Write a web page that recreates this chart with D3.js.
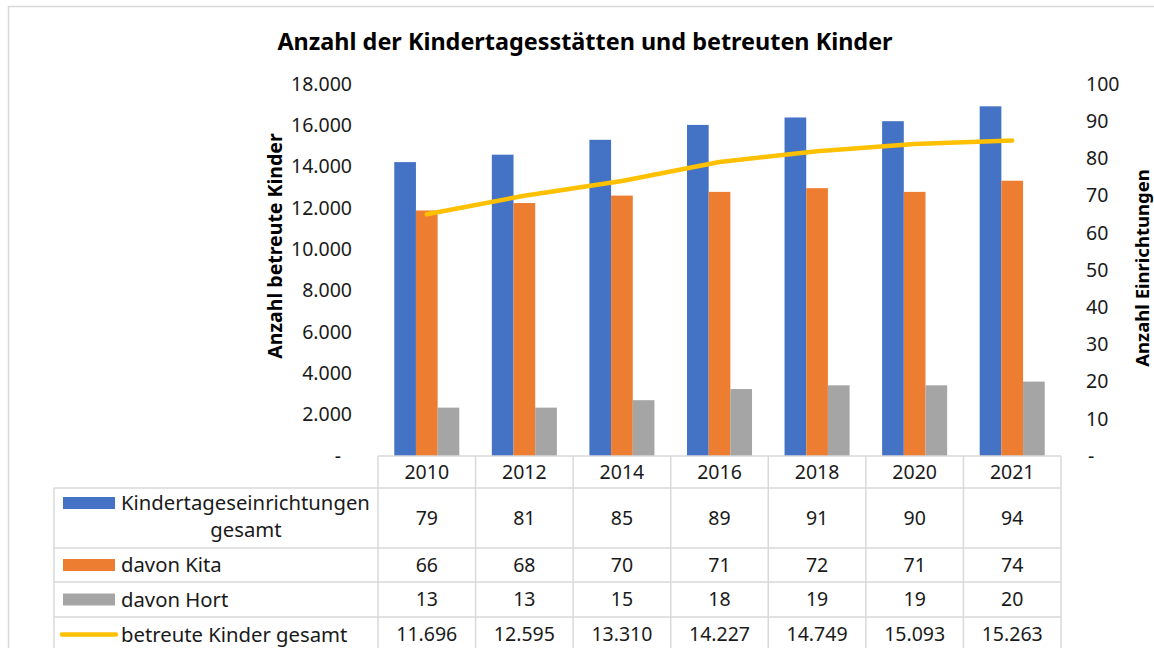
<!DOCTYPE html>
<html>
<head>
<meta charset="utf-8">
<script src="https://cdn.jsdelivr.net/npm/d3@7"></script>
<style>
	body { margin: 0; background: #fff; }
	svg { display: block; font-family: "Noto Sans", sans-serif; }
</style>
</head>
<body>
<div id="chart"></div>
<script>

// data
var years = ['2010', '2012', '2014', '2016', '2018', '2020', '2021'];
var einrichtungen = [79, 81, 85, 89, 91, 90, 94];
var kita = [66, 68, 70, 71, 72, 71, 74];
var hort = [13, 13, 15, 18, 19, 19, 20];
var kinder = [11696, 12595, 13310, 14227, 14749, 15093, 15263];
var leftTicks = [0, 2000, 4000, 6000, 8000, 10000, 12000, 14000, 16000, 18000];
var rightTicks = [0, 10, 20, 30, 40, 50, 60, 70, 80, 90, 100];

var barSeries = [
	{ name : 'Kindertageseinrichtungen gesamt', lines : ['Kindertageseinrichtungen', 'gesamt'], values : einrichtungen, color : '#4472C4' },
	{ name : 'davon Kita', lines : ['davon Kita'], values : kita, color : '#ED7D31' },
	{ name : 'davon Hort', lines : ['davon Hort'], values : hort, color : '#A5A5A5' }
];

var width = 1154;
var height = 648;

var plotLeft = 378;
var plotRight = 1061;
var plotTop = 84;
var plotBottom = 456;

var gridColor = '#d9d9d9';
var textColor = '#1a1a1a';
var numSize = '19.5px';

var de = d3.formatLocale({ decimal : ',', thousands : '.', grouping : [3], currency : ['', '€'] });
var fmt = de.format(',d');

var svg = d3.select('#chart')
		.append('svg')
		.attr('width', width)
		.attr('height', height);

// chart frame
svg.append('rect')
		.attr('x', 8.5)
		.attr('y', 6.5)
		.attr('width', width + 20)
		.attr('height', height + 20)
		.attr('fill', '#fff')
		.attr('stroke', gridColor)
		.attr('stroke-width', 1.5);

// title
svg.append('text')
		.attr('x', 585)
		.attr('y', 50)
		.attr('text-anchor', 'middle')
		.attr('font-size', '23.4px')
		.attr('font-weight', 700)
		.attr('fill', '#000')
		.text('Anzahl der Kindertagesstätten und betreuten Kinder');

// scales
var x = d3.scaleBand()
		.domain(years)
		.range([plotLeft, plotRight]);

var bw = x.bandwidth();
var barW = bw / 4.5;

var xInner = d3.scaleBand()
		.domain(barSeries.map(function (s) { return s.name; }))
		.range([(bw - 3 * barW) / 2, (bw + 3 * barW) / 2]);

var yLeft = d3.scaleLinear()
		.domain([0, 18000])
		.range([plotBottom, plotTop]);

var yRight = d3.scaleLinear()
		.domain([0, 100])
		.range([plotBottom, plotTop]);

// left axis
var leftAxis = svg.append('g')
		.attr('transform', 'translate(352,0)')
		.call(d3.axisLeft(yLeft)
			.tickValues(leftTicks)
			.tickSize(0)
			.tickPadding(0)
			.tickFormat(function (d) { return d === 0 ? '-' : fmt(d); }));

leftAxis.select('.domain').remove();
leftAxis.selectAll('text')
		.attr('font-size', numSize)
		.attr('font-family', '"Noto Sans", sans-serif')
		.attr('fill', textColor)
		.attr('dx', function (d) { return d === 0 ? -11 : 0; });

// right axis
var rightAxis = svg.append('g')
		.attr('transform', 'translate(1086,0)')
		.call(d3.axisRight(yRight)
			.tickValues(rightTicks)
			.tickSize(0)
			.tickPadding(0)
			.tickFormat(function (d) { return d === 0 ? '-' : fmt(d); }));

rightAxis.select('.domain').remove();
rightAxis.selectAll('text')
		.attr('font-size', numSize)
		.attr('font-family', '"Noto Sans", sans-serif')
		.attr('fill', textColor)
		.attr('dx', function (d) { return d === 0 ? 2 : 0; });

// axis titles
svg.append('text')
		.attr('transform', 'translate(282,246) rotate(-90)')
		.attr('text-anchor', 'middle')
		.attr('font-size', '19.5px')
		.attr('font-weight', 700)
		.attr('fill', '#000')
		.text('Anzahl betreute Kinder');

svg.append('text')
		.attr('transform', 'translate(1149,268) rotate(-90)')
		.attr('text-anchor', 'middle')
		.attr('font-size', '18.5px')
		.attr('font-weight', 700)
		.attr('fill', '#000')
		.text('Anzahl Einrichtungen');

// bars
var groups = svg.append('g')
		.selectAll('g')
		.data(barSeries)
		.enter()
		.append('g')
		.attr('fill', function (s) { return s.color; });

groups.selectAll('rect')
		.data(function (s) {
			return s.values.map(function (v, i) { return { name : s.name, year : years[i], value : v }; });
		})
		.enter()
		.append('rect')
		.attr('x', function (d) { return x(d.year) + xInner(d.name); })
		.attr('y', function (d) { return yRight(d.value); })
		.attr('width', xInner.bandwidth())
		.attr('height', function (d) { return yRight(0) - yRight(d.value); });

// line
var line = d3.line()
		.x(function (d, i) { return x(years[i]) + bw / 2; })
		.y(function (d) { return yLeft(d); });

svg.append('path')
		.datum(kinder)
		.attr('d', line)
		.attr('fill', 'none')
		.attr('stroke', '#FFC000')
		.attr('stroke-width', 4.5)
		.attr('stroke-linecap', 'round')
		.attr('stroke-linejoin', 'round');

// data table
var rowEdges = [456, 488, 548, 582, 617, 652];
var legendLeft = 54;

var tableRows = barSeries.map(function (s) {
	return { lines : s.lines, values : s.values.map(fmt), color : s.color, kind : 'bar' };
});
tableRows.push({ lines : ['betreute Kinder gesamt'], values : kinder.map(fmt), color : '#FFC000', kind : 'line' });

var table = svg.append('g')
		.attr('fill', textColor)
		.attr('font-size', numSize);

var border = table.append('g')
		.attr('stroke', gridColor)
		.attr('stroke-width', 1.5);

// header row lines
border.append('line')
		.attr('x1', plotLeft).attr('x2', plotRight)
		.attr('y1', rowEdges[0]).attr('y2', rowEdges[0]);

rowEdges.slice(1).forEach(function (yy) {
	border.append('line')
		.attr('x1', legendLeft).attr('x2', plotRight)
		.attr('y1', yy).attr('y2', yy);
});

border.append('line')
		.attr('x1', legendLeft).attr('x2', legendLeft)
		.attr('y1', rowEdges[1]).attr('y2', rowEdges[5]);

years.forEach(function (yr) {
	border.append('line')
		.attr('x1', x(yr)).attr('x2', x(yr))
		.attr('y1', rowEdges[0]).attr('y2', rowEdges[5]);
});

border.append('line')
		.attr('x1', plotRight).attr('x2', plotRight)
		.attr('y1', rowEdges[0]).attr('y2', rowEdges[5]);

// year header
table.selectAll('.year')
		.data(years)
		.enter()
		.append('text')
		.attr('class', 'year')
		.attr('x', function (d) { return x(d) + bw / 2; })
		.attr('y', (rowEdges[0] + rowEdges[1]) / 2)
		.attr('dy', '0.35em')
		.attr('text-anchor', 'middle')
		.text(function (d) { return d; });

tableRows.forEach(function (row, r) {

	var top = rowEdges[r + 1];
	var bottom = rowEdges[r + 2];
	var mid = (top + bottom) / 2;

	// legend key
	if (row.kind === 'bar') {
		table.append('rect')
			.attr('x', 63)
			.attr('y', (row.lines.length > 1 ? top + 15 : mid) - 6)
			.attr('width', 52)
			.attr('height', 12)
			.attr('fill', row.color);
	} else {
		table.append('line')
			.attr('x1', 62).attr('x2', 116)
			.attr('y1', mid).attr('y2', mid)
			.attr('stroke', row.color)
			.attr('stroke-width', 4.5)
			.attr('stroke-linecap', 'round');
	}

	// legend label
	if (row.lines.length > 1) {
		table.append('text')
			.attr('x', 121)
			.attr('y', top + 15)
			.attr('dy', '0.35em')
			.attr('font-size', '20.3px')
			.text(row.lines[0]);
		table.append('text')
			.attr('x', 246)
			.attr('y', top + 42)
			.attr('dy', '0.35em')
			.attr('font-size', '20.3px')
			.attr('text-anchor', 'middle')
			.text(row.lines[1]);
	} else {
		table.append('text')
			.attr('x', 121)
			.attr('y', mid)
			.attr('dy', '0.35em')
			.attr('font-size', '20.3px')
			.text(row.lines[0]);
	}

	// values
	table.selectAll('.v' + r)
		.data(row.values)
		.enter()
		.append('text')
		.attr('x', function (d, i) { return x(years[i]) + bw / 2; })
		.attr('y', mid)
		.attr('dy', '0.35em')
		.attr('text-anchor', 'middle')
		.text(function (d) { return d; });
});

</script>
</body>
</html>
